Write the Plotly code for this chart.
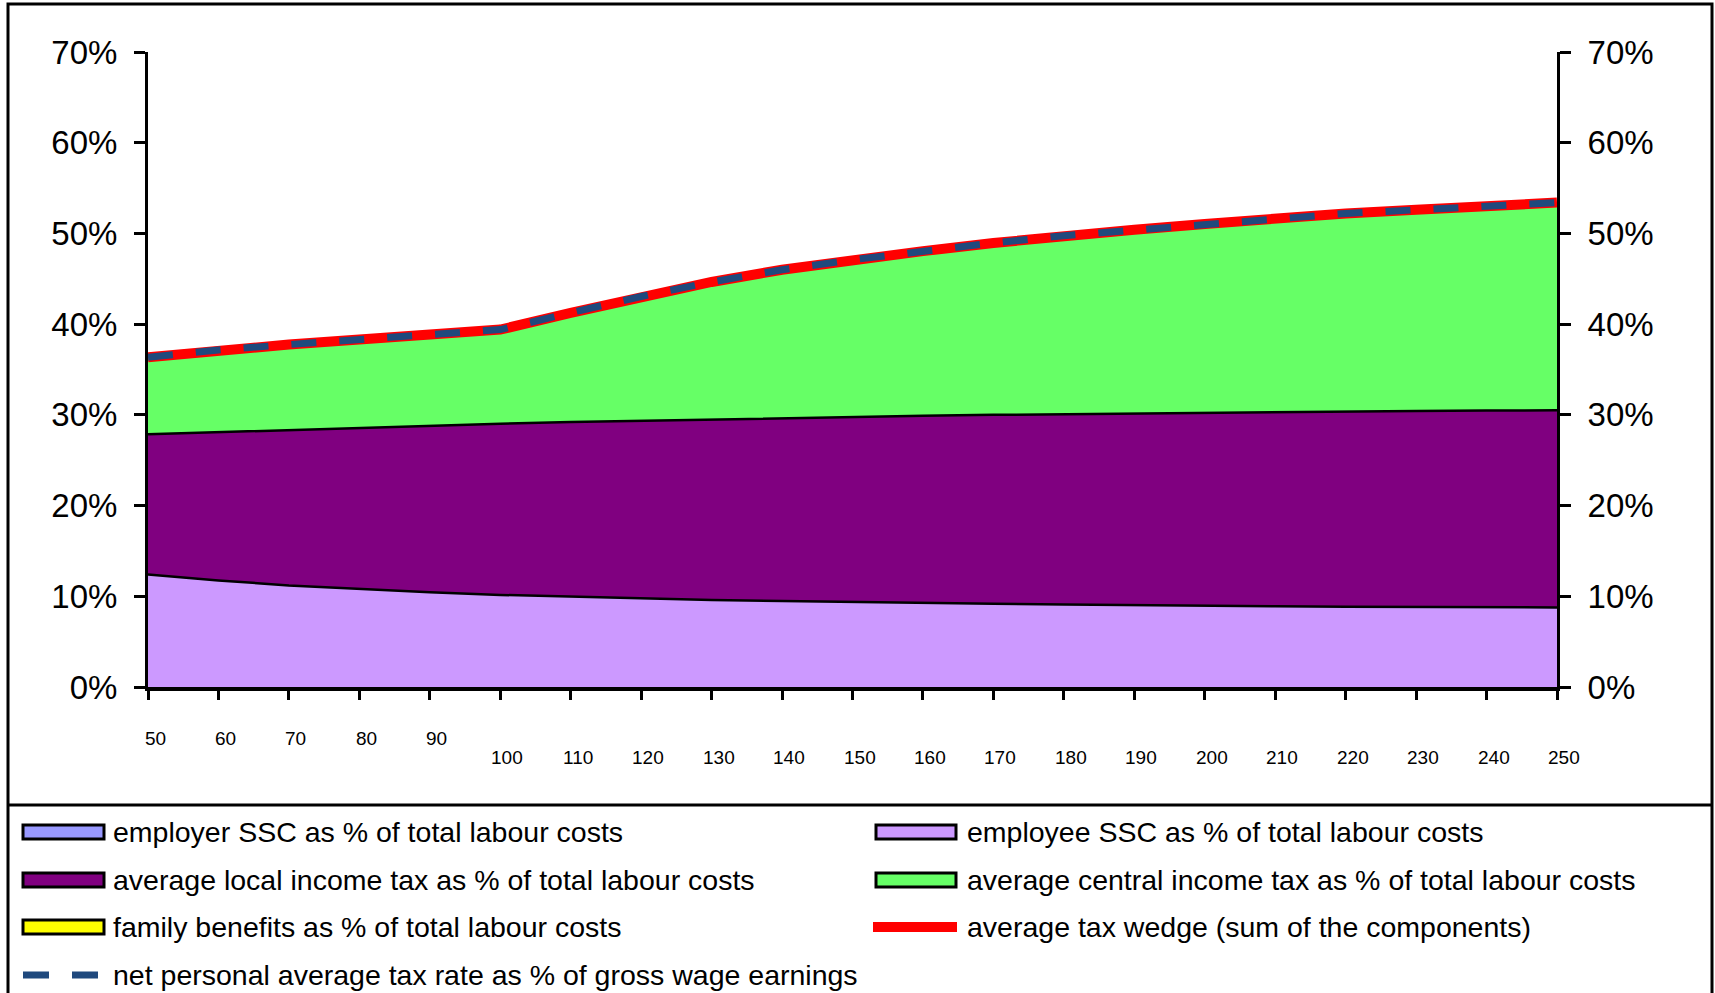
import plotly.graph_objects as go

# Gross wage earnings as % of the average wage
wage_levels = [50, 60, 70, 80, 90, 100, 110, 120, 130, 140, 150,
               160, 170, 180, 190, 200, 210, 220, 230, 240, 250]
wage_labels = ["50", "60", "70", "80", "90", "100", "110", "120", "130", "140", "150",
               "160", "170", "180", "190", "200", "210", "220", "230", "240", "250"]

# Tax wedge components, % of total labour costs
employer_ssc = [0, 0, 0, 0, 0, 0, 0, 0, 0, 0, 0,
                0, 0, 0, 0, 0, 0, 0, 0, 0, 0]
employee_ssc = [12.4, 11.75, 11.2, 10.8, 10.45, 10.15, 9.95, 9.75, 9.6, 9.47, 9.35,
                9.25, 9.17, 9.09, 9.01, 8.95, 8.9, 8.86, 8.82, 8.79, 8.77]
local_income_tax = [15.45, 16.35, 17.15, 17.8, 18.38, 18.87, 19.25, 19.6, 19.9, 20.16, 20.42,
                    20.65, 20.83, 20.99, 21.16, 21.31, 21.42, 21.51, 21.61, 21.68, 21.73]
central_income_tax = [8.5, 9.05, 9.4, 9.7, 9.97, 10.38, 12.05, 13.7, 15.15, 16.37, 17.33,
                      18.15, 18.95, 19.67, 20.23, 20.79, 21.38, 21.83, 22.17, 22.58, 22.9]
family_benefits = [0, 0, 0, 0, 0, 0, 0, 0, 0, 0, 0,
                   0, 0, 0, 0, 0, 0, 0, 0, 0, 0]
tax_wedge = [36.35, 37.15, 37.75, 38.3, 38.8, 39.4, 41.25, 43.05, 44.65, 46.0, 47.1,
             48.05, 48.95, 49.75, 50.4, 51.05, 51.7, 52.2, 52.6, 53.05, 53.4]
# Net personal average tax rate, % of gross wage earnings (secondary axis)
net_personal_rate = [36.35, 37.15, 37.75, 38.3, 38.8, 39.4, 41.25, 43.05, 44.65, 46.0, 47.1,
                     48.05, 48.95, 49.75, 50.4, 51.05, 51.7, 52.2, 52.6, 53.05, 53.4]

y_tick_vals = [0, 10, 20, 30, 40, 50, 60, 70]
y_tick_text = ["0%", "10%", "20%", "30%", "40%", "50%", "60%", "70%"]

FONT = "Liberation Sans, Arial, sans-serif"
W, H = 1715, 993
PLOT_L, PLOT_R, PLOT_T, PLOT_B = 148, 1557, 52, 687


def px_x(p):
    return (p - PLOT_L) / (PLOT_R - PLOT_L)


def px_y(p):
    return (PLOT_B - p) / (PLOT_B - PLOT_T)


fig = go.Figure()

stack = [
    ("employer SSC as % of total labour costs", employer_ssc, "#9999FF", 0),
    ("employee SSC as % of total labour costs", employee_ssc, "#CC99FF", 2.5),
    ("average local income tax as % of total labour costs", local_income_tax, "#800080", 2.5),
    ("average central income tax as % of total labour costs", central_income_tax, "#66FF66", 0),
    ("family benefits as % of total labour costs", family_benefits, "#FFFF00", 0),
]
for name, vals, color, lw in stack:
    fig.add_trace(go.Scatter(
        x=wage_levels, y=vals, name=name, mode="lines",
        stackgroup="wedge", fillcolor=color,
        line=dict(color="black", width=lw),
        showlegend=False,
    ))

fig.add_trace(go.Scatter(
    x=wage_levels, y=tax_wedge, name="average tax wedge (sum of the components)",
    mode="lines", line=dict(color="#FF0000", width=10), showlegend=False,
))
fig.add_trace(go.Scatter(
    x=wage_levels, y=net_personal_rate, yaxis="y2",
    name="net personal average tax rate as % of gross wage earnings",
    mode="lines", line=dict(color="#1F497D", width=7, dash="25px,23px"),
    showlegend=False,
))

axis_common = dict(
    range=[0, 70], tickvals=y_tick_vals, ticktext=y_tick_text,
    showline=True, linecolor="black", linewidth=3,
    ticks="outside", ticklen=11, tickwidth=3, tickcolor="black",
    showgrid=False, zeroline=False,
    tickfont=dict(family=FONT, size=33, color="black"),
    ticklabelstandoff=10,
)

fig.update_layout(
    width=W, height=H,
    margin=dict(l=PLOT_L, r=W - PLOT_R, t=PLOT_T, b=H - PLOT_B, pad=0),
    paper_bgcolor="white", plot_bgcolor="white",
    font=dict(family=FONT, color="black"),
    showlegend=False,
    xaxis=dict(
        range=[50, 250], tickvals=wage_levels, showticklabels=False,
        showline=True, linecolor="black", linewidth=4,
        ticks="outside", ticklen=9, tickwidth=3, tickcolor="black",
        showgrid=False, zeroline=False,
    ),
    yaxis=dict(side="left", **axis_common),
    yaxis2=dict(side="right", overlaying="y", anchor="x", **axis_common),
)

# Wage-level labels under the x axis (three-digit labels sit lower)
for v, lab in zip(wage_levels, wage_labels):
    fig.add_annotation(
        x=v, y=0, xref="x", yref="y", text=lab, showarrow=False,
        xanchor="center", yanchor="top", xshift=7,
        yshift=-39 if len(lab) == 2 else -58,
        font=dict(family=FONT, size=19, color="black"),
    )

# Outer frame and separator above the legend
fig.add_shape(type="rect", xref="paper", yref="paper",
              x0=px_x(8), x1=px_x(1712), y0=px_y(1000), y1=px_y(4),
              line=dict(color="black", width=3), fillcolor="rgba(0,0,0,0)", layer="above")
fig.add_shape(type="line", xref="paper", yref="paper",
              x0=px_x(8), x1=px_x(1712), y0=px_y(805), y1=px_y(805),
              line=dict(color="black", width=3))

# Legend
row_y = [832, 880, 927, 975]
legend_items = [
    # (column, row, kind, colour, text)
    (0, 0, "box", "#9999FF", "employer SSC as % of total labour costs"),
    (1, 0, "box", "#CC99FF", "employee SSC as % of total labour costs"),
    (0, 1, "box", "#800080", "average local income tax as % of total labour costs"),
    (1, 1, "box", "#66FF66", "average central income tax as % of total labour costs"),
    (0, 2, "box", "#FFFF00", "family benefits as % of total labour costs"),
    (1, 2, "line", "#FF0000", "average tax wedge (sum of the components)"),
    (0, 3, "dash", "#1F497D", "net personal average tax rate as % of gross wage earnings"),
]
sym_x = [(23, 104), (876, 956)]
text_x = [111, 965]
for col, row, kind, color, text in legend_items:
    yc = row_y[row]
    xa, xb = sym_x[col]
    if kind == "box":
        fig.add_shape(type="rect", xref="paper", yref="paper",
                      x0=px_x(xa), x1=px_x(xb), y0=px_y(yc + 7), y1=px_y(yc - 7),
                      fillcolor=color, line=dict(color="black", width=3))
    elif kind == "line":
        fig.add_shape(type="line", xref="paper", yref="paper",
                      x0=px_x(xa - 3), x1=px_x(xb + 1), y0=px_y(yc), y1=px_y(yc),
                      line=dict(color=color, width=10))
    else:
        fig.add_shape(type="line", xref="paper", yref="paper",
                      x0=px_x(xa), x1=px_x(xb - 6), y0=px_y(yc), y1=px_y(yc),
                      line=dict(color=color, width=7, dash="26px,23px"))
    fig.add_annotation(
        x=px_x(text_x[col]), y=px_y(yc), xref="paper", yref="paper",
        text=text, showarrow=False, xanchor="left", yanchor="middle",
        font=dict(family=FONT, size=28.5, color="black"),
    )

fig.write_html("out.html")
